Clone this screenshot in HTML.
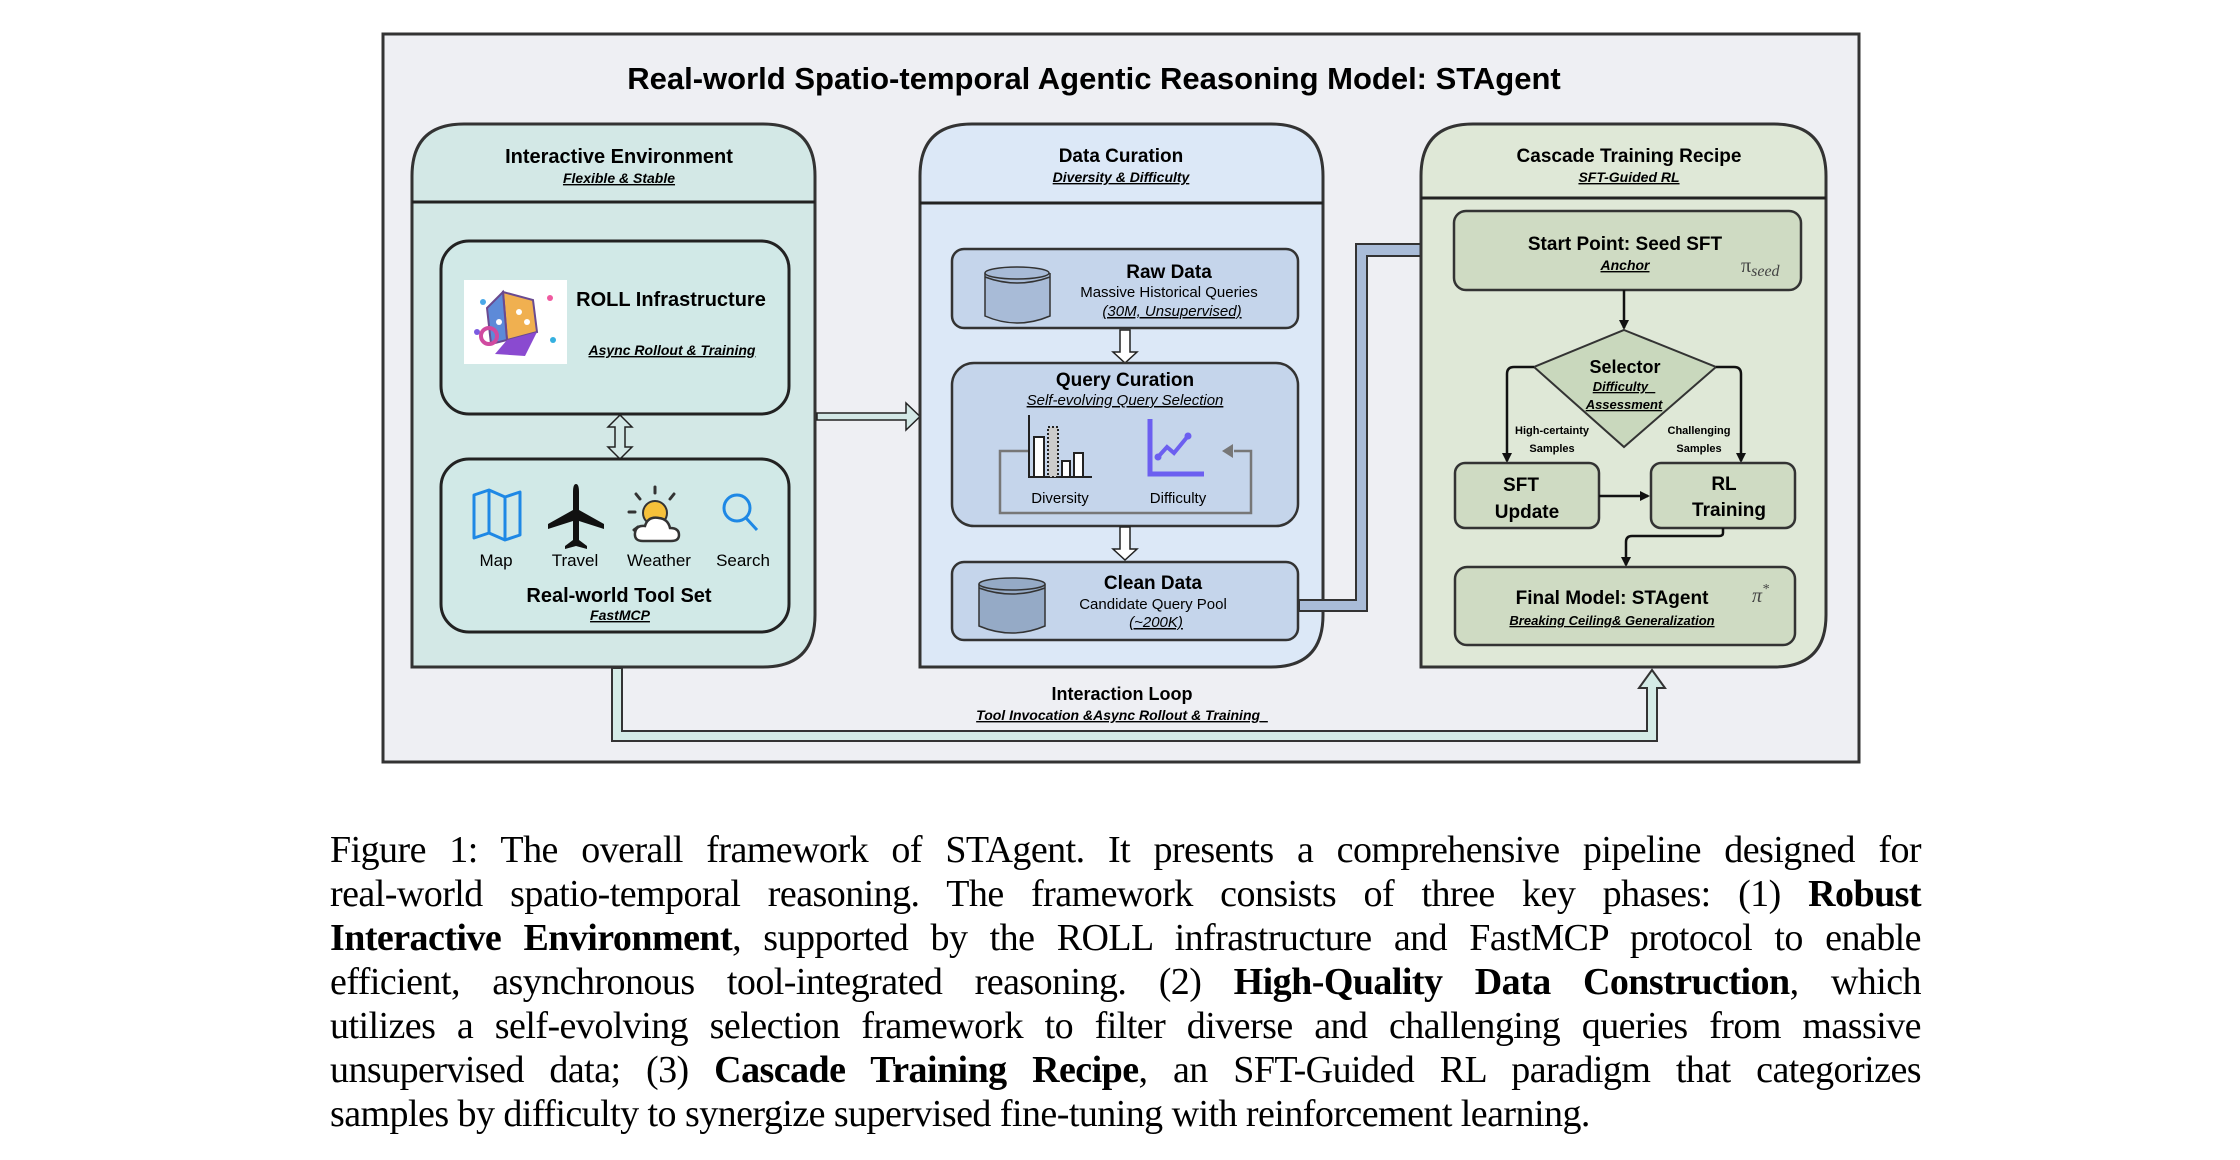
<!DOCTYPE html>
<html><head><meta charset="utf-8">
<style>
html,body{margin:0;padding:0;background:#fff;}
body{width:2240px;height:1160px;position:relative;overflow:hidden;font-family:"Liberation Sans",sans-serif;}
svg{position:absolute;left:0;top:0;}
.cap{position:absolute;left:330px;width:1591px;font-family:"Liberation Serif",serif;font-size:38px;letter-spacing:-0.55px;line-height:44px;color:#000;}
.cap div{text-align:justify;text-align-last:justify;white-space:nowrap;height:44px;}
.cap div.last{text-align-last:left;}
</style></head><body>
<svg width="2240" height="1160" viewBox="0 0 2240 1160" font-family="Liberation Sans, sans-serif">
<defs>
<marker id="ah" markerWidth="10" markerHeight="10" refX="8" refY="5" orient="auto" markerUnits="userSpaceOnUse"><path d="M0,0 L10,5 L0,10 z" fill="#111"/></marker>
</defs>
<rect x="383" y="34" width="1476" height="728" fill="#eeeff3" stroke="#333" stroke-width="3"/>
<text x="1094" y="89" font-size="31" font-weight="bold" text-anchor="middle" fill="#000">Real-world Spatio-temporal Agentic Reasoning Model: STAgent</text>

<path d="M412,667 L412,176 Q412,124 464,124 L763,124 Q815,124 815,176 L815,615 Q815,667 763,667 Z" fill="#d3e8e6" stroke="#333" stroke-width="3"/>
<line x1="412" y1="202" x2="815" y2="202" stroke="#222" stroke-width="3"/>
<text x="619" y="163" font-size="20" font-weight="bold" text-anchor="middle">Interactive Environment</text>
<text x="619" y="183" font-size="14" font-weight="bold" font-style="italic" text-anchor="middle" text-decoration="underline">Flexible &amp; Stable</text>
<rect x="441" y="241" width="348" height="173" rx="28" fill="#d1e9e7" stroke="#222" stroke-width="3"/>
<rect x="464" y="280" width="103" height="84" fill="#fff"/>
<g transform="translate(515,322)">
<circle cx="-32" cy="-20" r="3" fill="#4aa8e8"/><circle cx="35" cy="-24" r="3" fill="#f05aa0"/><circle cx="-38" cy="10" r="3" fill="#7c5ce0"/><circle cx="38" cy="18" r="3" fill="#35b0e0"/>
<path d="M-12,-30 L18,-22 L22,10 L-8,18 Z" fill="#f0b050" stroke="#6a4a90" stroke-width="2"/>
<path d="M-12,-30 L-28,-14 L-24,22 L-8,18 Z" fill="#5d8ad8" stroke="#6a4a90" stroke-width="2"/>
<path d="M-8,18 L22,10 L10,34 L-20,32 Z" fill="#8a4ad0"/>
<circle cx="-26" cy="14" r="8" fill="none" stroke="#d04aa0" stroke-width="4"/>
<circle cx="4" cy="-10" r="3" fill="#fff"/><circle cx="12" cy="0" r="3" fill="#fff"/><circle cx="-16" cy="0" r="3" fill="#fff"/>
</g>
<text x="671" y="306" font-size="20" font-weight="bold" text-anchor="middle">ROLL Infrastructure</text>
<text x="672" y="355" font-size="14" font-weight="bold" font-style="italic" text-anchor="middle" text-decoration="underline">Async Rollout &amp; Training</text>
<path d="M620,415 L632,427 L625,427 L625,447 L632,447 L620,459 L608,447 L615,447 L615,427 L608,427 Z" fill="#d3e8e6" stroke="#222" stroke-width="1.5"/>
<rect x="441" y="459" width="348" height="173" rx="28" fill="#d1e9e7" stroke="#222" stroke-width="3"/>
<path d="M474,495 L489,490 L505,497 L520,492 L520,535 L505,540 L489,533 L474,538 Z" fill="none" stroke="#1e88e5" stroke-width="3" stroke-linejoin="round"/>
<line x1="489" y1="490" x2="489" y2="533" stroke="#1e88e5" stroke-width="3"/><line x1="505" y1="497" x2="505" y2="540" stroke="#1e88e5" stroke-width="3"/>
<path d="M576,484 Q573,484 573,492 L573,510 L548,524 L548,529 L573,521 L573,540 L565,546 L565,549 L576,546 L587,549 L587,546 L579,540 L579,521 L604,529 L604,524 L579,510 L579,492 Q579,484 576,484 Z" fill="#111"/>
<circle cx="655" cy="513" r="12" fill="#f6c13a" stroke="#333" stroke-width="2"/>
<g stroke="#333" stroke-width="3" stroke-linecap="round"><line x1="655" y1="487" x2="655" y2="493"/><line x1="636" y1="494" x2="640" y2="499"/><line x1="674" y1="494" x2="670" y2="499"/><line x1="629" y1="512" x2="635" y2="512"/><line x1="634" y1="530" x2="638" y2="527"/></g>
<path d="M643,541 Q634,541 635,533 Q636,525 645,526 Q648,516 659,518 Q668,519 670,528 Q679,528 679,535 Q679,541 671,541 Z" fill="#fff" stroke="#333" stroke-width="2.5"/>
<circle cx="737" cy="508" r="13" fill="none" stroke="#1e88e5" stroke-width="3"/>
<line x1="746" y1="518" x2="757" y2="530" stroke="#1e88e5" stroke-width="3"/>
<g font-size="17" text-anchor="middle"><text x="496" y="566">Map</text><text x="575" y="566">Travel</text><text x="659" y="566">Weather</text><text x="743" y="566">Search</text></g>
<text x="619" y="602" font-size="20" font-weight="bold" text-anchor="middle">Real-world Tool Set</text>
<text x="620" y="620" font-size="14" font-weight="bold" font-style="italic" text-anchor="middle" text-decoration="underline">FastMCP</text>

<path d="M817,413 L906,413 L906,403 L920,416.5 L906,430 L906,420 L817,420 Z" fill="#d3e8e6" stroke="#222" stroke-width="1.5"/>

<path d="M920,667 L920,176 Q920,124 972,124 L1271,124 Q1323,124 1323,176 L1323,615 Q1323,667 1271,667 Z" fill="#dce8f7" stroke="#333" stroke-width="3"/>
<line x1="920" y1="203" x2="1323" y2="203" stroke="#222" stroke-width="3"/>
<text x="1121" y="162" font-size="19" font-weight="bold" text-anchor="middle">Data Curation</text>
<text x="1121" y="182" font-size="14" font-weight="bold" font-style="italic" text-anchor="middle" text-decoration="underline">Diversity &amp; Difficulty</text>
<rect x="952" y="249" width="346" height="79" rx="12" fill="#c5d5eb" stroke="#333" stroke-width="2.5"/>
<g stroke="#333" stroke-width="1.5" fill="#a8bbd7"><path d="M985,273 L985,316 Q1017,330 1050,316 L1050,273"/><ellipse cx="1017" cy="273" rx="32" ry="6"/><path d="M985,277 Q1017,289 1050,277" fill="none"/></g>
<text x="1169" y="278" font-size="19" font-weight="bold" text-anchor="middle">Raw Data</text>
<text x="1169" y="297" font-size="15" text-anchor="middle">Massive Historical Queries</text>
<text x="1172" y="316" font-size="15" font-style="italic" text-anchor="middle" text-decoration="underline"> (30M, Unsupervised)</text>
<path d="M1120,330 L1130,330 L1130,352 L1137,352 L1125,363 L1113,352 L1120,352 Z" fill="#fff" stroke="#222" stroke-width="1.5"/>
<rect x="952" y="363" width="346" height="163" rx="22" fill="#c5d5eb" stroke="#333" stroke-width="2.5"/>
<text x="1125" y="386" font-size="19" font-weight="bold" text-anchor="middle">Query Curation</text>
<text x="1125" y="405" font-size="15" font-style="italic" text-anchor="middle" text-decoration="underline">Self-evolving Query Selection</text>
<path d="M1028,451 L1000,451 L1000,513 L1251,513 L1251,451 L1234,451" fill="none" stroke="#777" stroke-width="2.5"/>
<path d="M1222,451 L1233,444 L1233,458 Z" fill="#777"/>
<g stroke="#222" stroke-width="2" fill="#fff"><line x1="1029" y1="415" x2="1029" y2="478"/><line x1="1028" y1="477" x2="1092" y2="477"/>
<rect x="1034" y="437" width="10" height="40"/><rect x="1048" y="427" width="10" height="50" fill="#ccc" stroke-dasharray="2 2"/><rect x="1062" y="461" width="8" height="16"/><rect x="1074" y="453" width="9" height="24"/></g>
<path d="M1150,419 L1150,474 L1204,474" fill="none" stroke="#6c5ff0" stroke-width="5"/>
<polyline points="1158,457 1167,447 1174,453 1188,436" fill="none" stroke="#6c5ff0" stroke-width="4"/>
<circle cx="1158" cy="457" r="3.5" fill="#6c5ff0"/><circle cx="1188" cy="436" r="3.5" fill="#6c5ff0"/>
<text x="1060" y="503" font-size="15" text-anchor="middle">Diversity</text>
<text x="1178" y="503" font-size="15" text-anchor="middle">Difficulty</text>
<path d="M1120,527 L1130,527 L1130,549 L1137,549 L1125,560 L1113,549 L1120,549 Z" fill="#fff" stroke="#222" stroke-width="1.5"/>
<rect x="952" y="562" width="346" height="78" rx="12" fill="#c5d5eb" stroke="#333" stroke-width="2.5"/>
<g stroke="#333" stroke-width="1.5" fill="#95aac6"><path d="M979,584 L979,626 Q1012,640 1045,626 L1045,584"/><ellipse cx="1012" cy="584" rx="33" ry="6"/><path d="M979,588 Q1012,600 1045,588" fill="none"/></g>
<text x="1153" y="589" font-size="19" font-weight="bold" text-anchor="middle">Clean Data</text>
<text x="1153" y="609" font-size="15" text-anchor="middle">Candidate Query Pool</text>
<text x="1156" y="627" font-size="15" font-style="italic" text-anchor="middle" text-decoration="underline"> (~200K)</text>

<path d="M1299,600 L1356,600 L1356,244 L1433,244 L1433,237 L1454,250 L1433,263 L1433,256 L1367,256 L1367,611 L1299,611 Z" fill="#a9bcd8" stroke="#333" stroke-width="2"/>

<path d="M1421,667 L1421,176 Q1421,124 1473,124 L1774,124 Q1826,124 1826,176 L1826,615 Q1826,667 1774,667 Z" fill="#dfe8d7" stroke="#333" stroke-width="3"/>
<line x1="1421" y1="198" x2="1826" y2="198" stroke="#222" stroke-width="3"/>
<text x="1629" y="162" font-size="19" font-weight="bold" text-anchor="middle">Cascade Training Recipe</text>
<text x="1629" y="182" font-size="14" font-weight="bold" font-style="italic" text-anchor="middle" text-decoration="underline">SFT-Guided RL</text>
<rect x="1454" y="211" width="347" height="79" rx="12" fill="#cfdbc3" stroke="#333" stroke-width="2.5"/>
<text x="1625" y="250" font-size="19" font-weight="bold" text-anchor="middle">Start Point: Seed SFT</text>
<text x="1625" y="270" font-size="14" font-weight="bold" font-style="italic" text-anchor="middle" text-decoration="underline">Anchor</text>
<text x="1741" y="272" font-size="20" font-family="Liberation Serif, serif" fill="#444">π<tspan font-size="16" font-style="italic" dy="4">seed</tspan></text>
<line x1="1624" y1="290" x2="1624" y2="328" stroke="#111" stroke-width="2.5" marker-end="url(#ah)"/>
<path d="M1624,330 L1716,367 L1624,447 L1534,367 Z" fill="#c9d8bd" stroke="#333" stroke-width="2"/>
<text x="1625" y="373" font-size="18" font-weight="bold" text-anchor="middle">Selector</text>
<text x="1624" y="391" font-size="13" font-weight="bold" font-style="italic" text-anchor="middle" text-decoration="underline">Difficulty_</text>
<text x="1624" y="409" font-size="13" font-weight="bold" font-style="italic" text-anchor="middle" text-decoration="underline">Assessment</text>
<path d="M1534,367 L1514,367 Q1507,367 1507,374 L1507,461" fill="none" stroke="#111" stroke-width="2.5" marker-end="url(#ah)"/>
<path d="M1716,367 L1734,367 Q1741,367 1741,374 L1741,461" fill="none" stroke="#111" stroke-width="2.5" marker-end="url(#ah)"/>
<g font-size="11" font-weight="bold" text-anchor="middle"><text x="1552" y="434">High-certainty</text><text x="1552" y="452">Samples</text><text x="1699" y="434">Challenging</text><text x="1699" y="452">Samples</text></g>
<rect x="1455" y="463" width="144" height="65" rx="10" fill="#cfdbc3" stroke="#333" stroke-width="2.5"/>
<text x="1521" y="491" font-size="19" font-weight="bold" text-anchor="middle">SFT</text>
<text x="1527" y="518" font-size="19" font-weight="bold" text-anchor="middle">Update</text>
<line x1="1599" y1="496" x2="1648" y2="496" stroke="#111" stroke-width="2.5" marker-end="url(#ah)"/>
<rect x="1651" y="463" width="144" height="65" rx="10" fill="#cfdbc3" stroke="#333" stroke-width="2.5"/>
<text x="1724" y="490" font-size="19" font-weight="bold" text-anchor="middle">RL</text>
<text x="1729" y="516" font-size="19" font-weight="bold" text-anchor="middle">Training</text>
<path d="M1723,528 L1723,533 Q1723,536 1719,536 L1632,536 Q1626,536 1626,542 L1626,565" fill="none" stroke="#111" stroke-width="2.5" marker-end="url(#ah)"/>
<rect x="1455" y="567" width="340" height="78" rx="12" fill="#cfdbc3" stroke="#333" stroke-width="2.5"/>
<text x="1612" y="604" font-size="19" font-weight="bold" text-anchor="middle">Final Model: STAgent</text>
<text x="1612" y="625" font-size="13" font-weight="bold" font-style="italic" text-anchor="middle" text-decoration="underline">Breaking  Ceiling&amp; Generalization</text>
<text x="1752" y="602" font-size="20" font-family="Liberation Serif, serif" font-style="italic" fill="#444">π<tspan font-size="14" dy="-9">*</tspan></text>

<path d="M612,668 L612,741 L1657,741 L1657,688 L1665,688 L1652,670 L1639,688 L1647,688 L1647,731 L622,731 L622,668 Z" fill="#d4ebe6" stroke="#333" stroke-width="2"/>
<text x="1122" y="700" font-size="18" font-weight="bold" text-anchor="middle">Interaction Loop</text>
<text x="1122" y="720" font-size="14" font-weight="bold" font-style="italic" text-anchor="middle" text-decoration="underline">Tool Invocation &amp;Async Rollout &amp; Training_</text>
</svg>
<div class="cap" style="top:828px;">
<div>Figure 1: The overall framework of STAgent. It presents a comprehensive pipeline designed for</div>
<div>real-world spatio-temporal reasoning. The framework consists of three key phases: (1) <b>Robust</b></div>
<div><b>Interactive Environment</b>, supported by the ROLL infrastructure and FastMCP protocol to enable</div>
<div>efficient, asynchronous tool-integrated reasoning. (2) <b>High-Quality Data Construction</b>, which</div>
<div>utilizes a self-evolving selection framework to filter diverse and challenging queries from massive</div>
<div>unsupervised data; (3) <b>Cascade Training Recipe</b>, an SFT-Guided RL paradigm that categorizes</div>
<div class="last">samples by difficulty to synergize supervised fine-tuning with reinforcement learning.</div>
</div>
</body></html>
